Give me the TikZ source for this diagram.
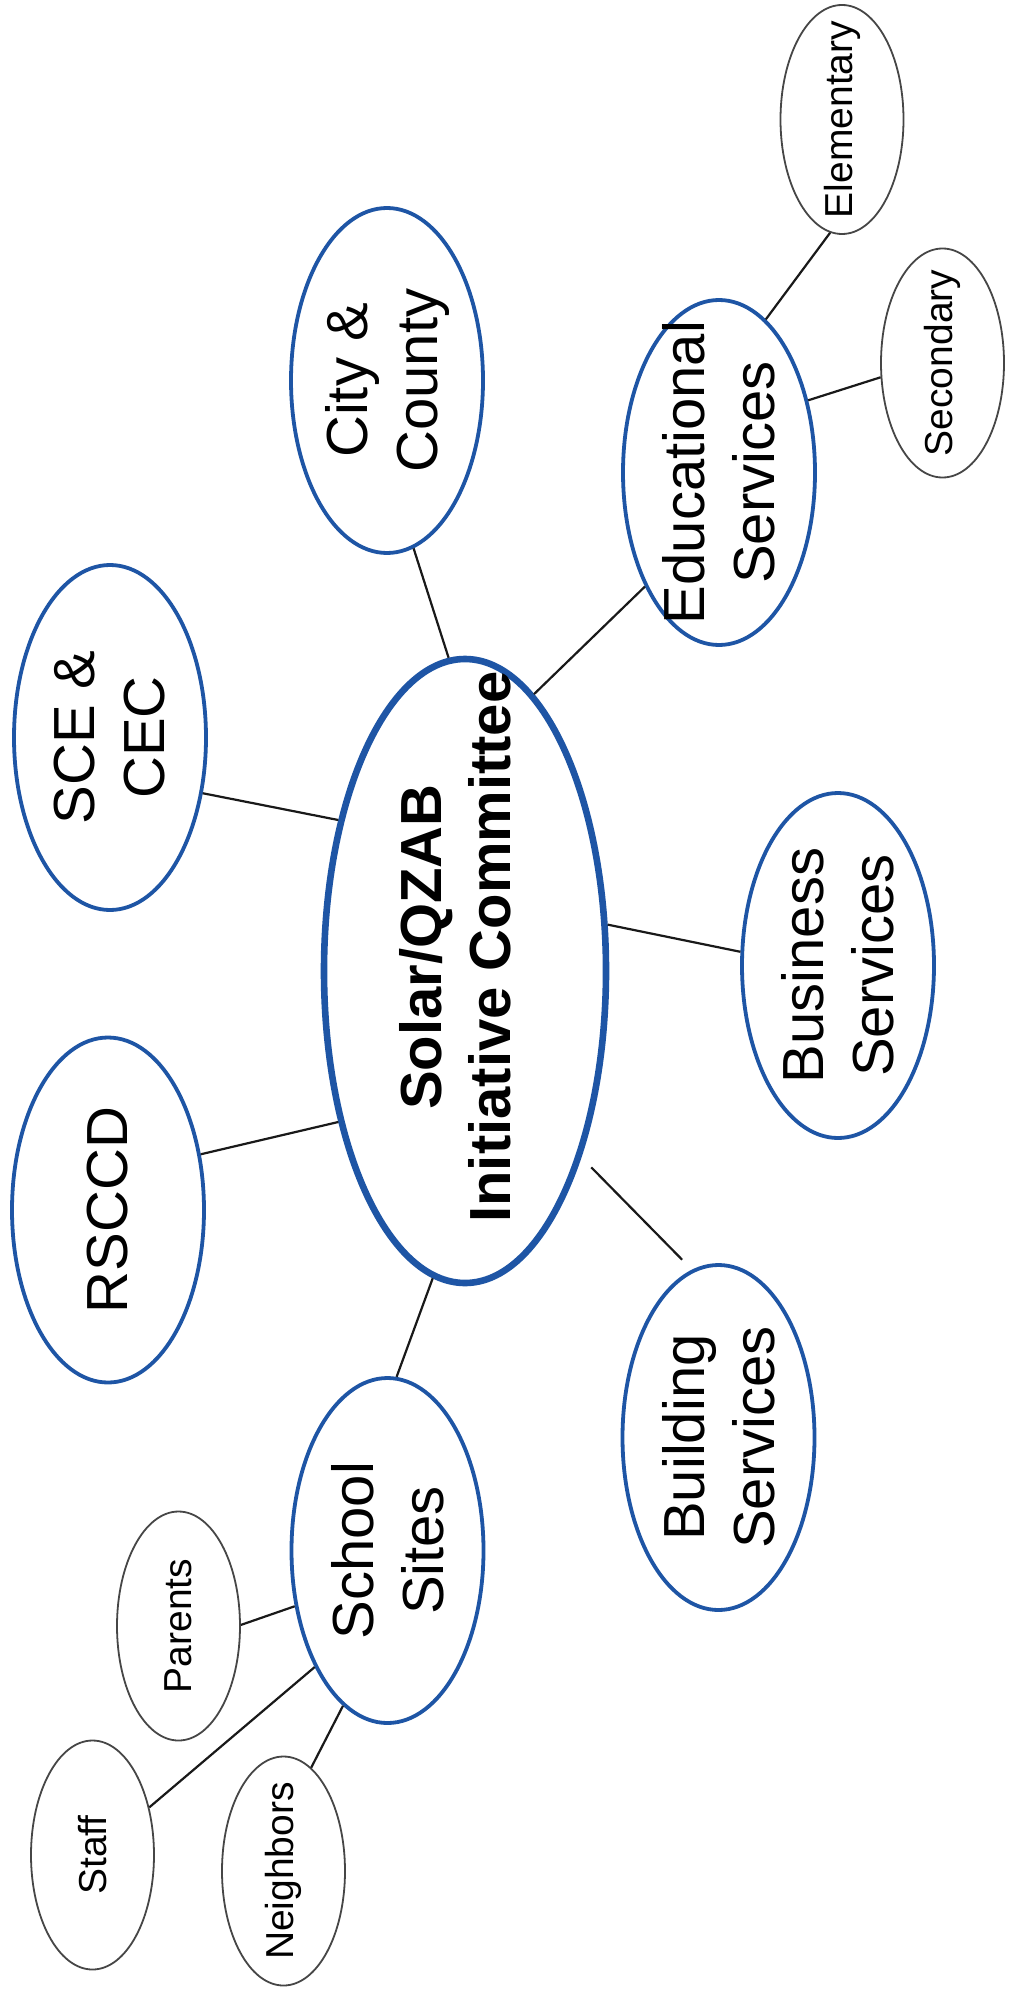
\documentclass[tikz,border=0pt]{standalone}
\usepackage{fontspec}
\setmainfont{Liberation Sans}
\usetikzlibrary{shapes.geometric}
\definecolor{ringblue}{RGB}{30,85,165}
\definecolor{ringgray}{RGB}{70,70,70}
\begin{document}
\begin{tikzpicture}[x=0.5pt,y=-0.5pt,
  bluenode/.style={ellipse, draw=ringblue, line width=1.9pt, rotate=90,
    minimum width=172.5pt, minimum height=96pt, inner xsep=-40pt, inner ysep=0pt,
    align=center, font=\fontsize{29}{35}\selectfont, text=black},
  mainnode/.style={ellipse, draw=ringblue, line width=3.3pt, rotate=90,
    minimum width=312pt, minimum height=141pt, inner xsep=-60pt, inner ysep=0pt,
    align=center, font=\bfseries\fontsize{29}{34.5}\selectfont, text=black},
  smallnode/.style={ellipse, draw=ringgray, line width=0.9pt, rotate=90,
    minimum width=114.5pt, minimum height=61.5pt, inner xsep=-30pt, inner ysep=0pt,
    font=\fontsize{19.5}{23}\selectfont, text=black},
  link/.style={draw=black!90, line width=1.1pt}]
\useasboundingbox (0,0) rectangle (1009,1990);
\fill[white] (0,0) rectangle (1009,1990);

\node[mainnode] (main) at (465,971)
  {\hspace*{24pt}Solar/QZAB\\\hspace*{24pt}Initiative Committee\rule[-10pt]{0pt}{10pt}};
\node[bluenode] (rsccd) at (108,1210) {RSCCD};
\node[bluenode] (sce) at (110,737.5) {SCE \&\\CEC};
\node[bluenode] (city) at (387,380.5) {City \&\\County};
\node[bluenode] (edu) at (719,472.5) {Educational\\Services};
\node[bluenode] (bus) at (838,965.5) {Business\\Services};
\node[bluenode] (bld) at (718.5,1437.5) {Building\\Services};
\node[bluenode] (school) at (387.5,1550.5) {School\\Sites};
\node[smallnode] (parents) at (178.5,1626) {Parents};
\node[smallnode] (staff) at (92.5,1855) {Staff};
\node[smallnode] (neigh) at (283.5,1871) {Neighbors};
\node[smallnode] (elem) at (842,119.5) {Elementary};
\node[smallnode] (sec) at (942.5,363) {Secondary};

\draw[link] (city.-171.5) -- (main.3.3);
\draw[link] (edu.147.6) -- (main.-14.3);
\draw[link] (sce.-121.2) -- (main.40.6);
\draw[link] (rsccd.-59.3) -- (main.140.5);
\draw[link] (bus.82.6) -- (main.-72.3);
\draw[link, shorten <=7pt, shorten >=7pt] (main.-148) -- (bld.9);
\draw[link] (school.-3.2) -- (main.174);
\draw[link] (parents.-89.1) -- (school.121.3);
\draw[link] (staff.-50.4) -- (school.148.1);
\draw[link] (neigh.-15) -- (school.164.6);
\draw[link] (elem.174) -- (edu.-17.5);
\draw[link] (sec.103.2) -- (edu.-51.9);
\end{tikzpicture}
\end{document}
